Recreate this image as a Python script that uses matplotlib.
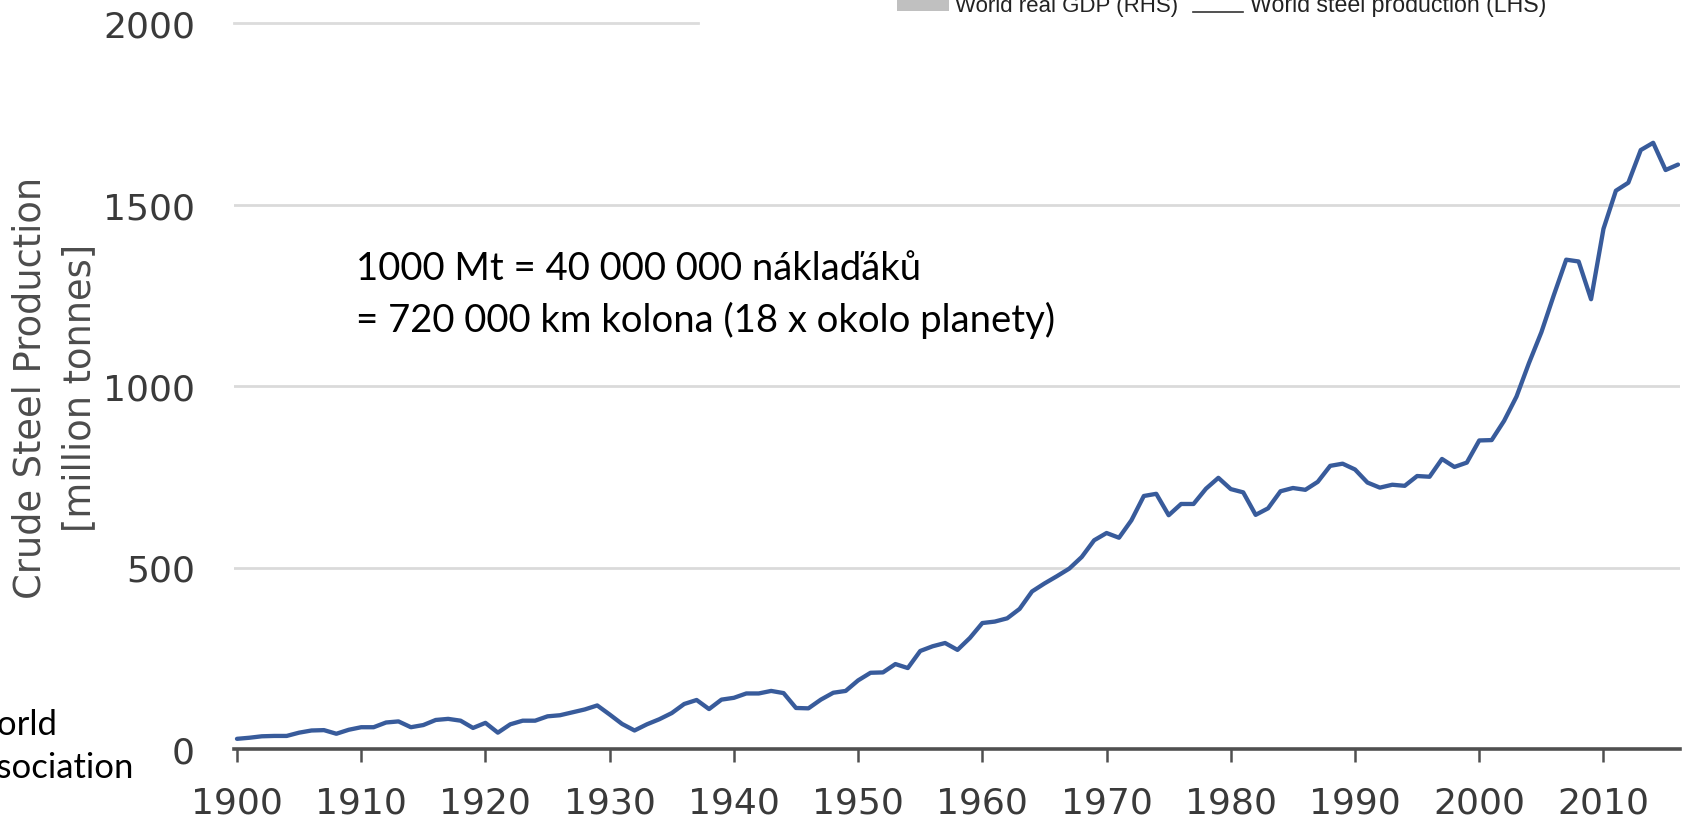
import matplotlib
matplotlib.use("Agg")
import matplotlib.pyplot as plt
from matplotlib.patches import Rectangle
from matplotlib.lines import Line2D
from matplotlib.transforms import IdentityTransform

# ---------------- data ----------------
years = list(range(1900, 2017))
steel_mt = [
    28, 31, 35, 36, 36, 45, 51, 52, 42, 53,          # 1900s
    60, 60, 73, 76, 60, 66, 80, 83, 78, 58,          # 1910s
    72, 45, 68, 78, 78, 90, 93, 101, 109, 120,       # 1920s
    95, 69, 51, 68, 82, 99, 124, 135, 110, 136,      # 1930s
    141, 153, 153, 160, 154, 113, 112, 136, 155, 160,  # 1940s
    189, 210, 211, 234, 223, 270, 283, 292, 273, 306,  # 1950s
    347, 351, 360, 386, 434, 456, 476, 497, 529, 575,  # 1960s
    595, 582, 630, 697, 703, 644, 675, 675, 717, 747,  # 1970s
    716, 707, 645, 663, 710, 719, 714, 736, 780, 786,  # 1980s
    770, 734, 720, 728, 725, 752, 750, 799, 777, 789,  # 1990s
    850, 851, 904, 971, 1063, 1148, 1250, 1348, 1343, 1239,  # 2000s
    1433, 1538, 1560, 1650, 1670, 1595, 1610,         # 2010-2016
]
xticks = list(range(1900, 2011, 10))
yticks = [0, 500, 1000, 1500, 2000]
ylabel_line1 = "Crude Steel Production"
ylabel_line2 = "[million tonnes]"
note_lines = ["1000 Mt = 40 000 000 náklaďáků",
              "= 720 000 km kolona (18 x okolo planety)"]
legend_labels = ["World real GDP (RHS)", "World steel production (LHS)"]
source_lines = ["World", "Association"]
source_hidden = ["W", "As"]   # leading letters cut off by the left edge in the reference

# ---------------- figure ----------------
W, H, DPI = 1691, 829, 100
fig = plt.figure(figsize=(W / DPI, H / DPI), dpi=DPI, facecolor="white")


def fx(px):
    return px / W


def fy(py):
    return 1 - py / H


AX_L, AX_R, AX_T, AX_B = 234, 1680, 24, 750
ax = fig.add_axes([fx(AX_L), fy(AX_B), fx(AX_R) - fx(AX_L), fy(AX_T) - fy(AX_B)])
ax.set_facecolor("white")

ax.plot(years, steel_mt, color="#385b9b", lw=3.1, solid_joinstyle="round",
        solid_capstyle="round", zorder=3)
ax.set_xlim(1899.76, 2016.16)
ax.set_ylim(0, 2000)

for v in yticks[1:-1]:
    ax.axhline(v, color="#dadada", lw=2.0, zorder=1)
ax.axhline(yticks[-1], xmin=0, xmax=(698 - AX_L) / (AX_R - AX_L),
           color="#dcdcdc", lw=2.0, zorder=1, clip_on=False)

for s in ("left", "right", "top"):
    ax.spines[s].set_visible(False)
ax.spines["bottom"].set_color("#505050")
ax.spines["bottom"].set_linewidth(2.6)
ax.spines["bottom"].set_zorder(4)

ax.set_xticks(xticks)
ax.set_xticklabels([str(x) for x in xticks])
ax.set_yticks(yticks)
ax.set_yticklabels([str(y) for y in yticks])
ax.tick_params(axis="x", direction="out", length=9, width=1.8, color="#505050",
               pad=17, labelsize=26, labelcolor="#3a3a3a")
ax.tick_params(axis="y", length=0, pad=28, labelsize=26, labelcolor="#3a3a3a")

# y-axis label (two lines)
fig.text(fx(30), fy(388), ylabel_line1, rotation=90, ha="center", va="center",
         fontsize=26.5, color="#4c4c4c")
fig.text(fx(80), fy(388), ylabel_line2, rotation=90, ha="center", va="center",
         fontsize=26.5, color="#4c4c4c")

renderer = fig.canvas.get_renderer()


def text_width(s, **kw):
    t = fig.text(0, 0, s, **kw)
    w = t.get_window_extent(renderer=renderer).width
    t.remove()
    return w


def fit_width(t, target_px):
    w = t.get_window_extent(renderer=renderer).width
    t.set_fontsize(t.get_fontsize() * target_px / w)
    return t.get_fontsize()


# annotation
note_font = ["Lato", "DejaVu Sans"]
t1 = fig.text(fx(356), fy(280), note_lines[0], ha="left", va="baseline",
              family=note_font, fontsize=30, color="black")
fs = fit_width(t1, 564)
fig.text(fx(356), fy(332), note_lines[1], ha="left", va="baseline",
         family=note_font, fontsize=fs, color="black")

# source text (its first letters run off the left edge, as in the reference)
src_fs = fs * 35 / 42.5 * 1.1
for s, hidden, base in zip(source_lines, source_hidden, (735, 778)):
    full_w = text_width(s, family=note_font, fontsize=src_fs)
    rest_w = text_width(s[len(hidden):], family=note_font, fontsize=src_fs)
    x0 = -(full_w - rest_w) - 3
    fig.text(fx(x0), fy(base), s, ha="left", va="baseline",
             family=note_font, fontsize=src_fs, color="black")

# legend remnants at the top (cut off)
fig.add_artist(Rectangle((897, H - 12), 52, 14, transform=IdentityTransform(),
                         facecolor="#c0c0c0", edgecolor="none"))
lg1 = fig.text(fx(955), fy(12), legend_labels[0], ha="left", va="baseline",
               family=["Liberation Sans", "DejaVu Sans"], fontsize=15.8, color="#222222")
fit_width(lg1, 223)
fig.add_artist(Line2D([1193, 1243], [H - 12.7, H - 12.7], transform=IdentityTransform(),
                      color="#333333", lw=1.2))
lg2 = fig.text(fx(1250), fy(12), legend_labels[1], ha="left", va="baseline",
               family=["Liberation Sans", "DejaVu Sans"], fontsize=15.8, color="#222222")
fit_width(lg2, 297)

fig.savefig("out.png", dpi=DPI, facecolor="white")
